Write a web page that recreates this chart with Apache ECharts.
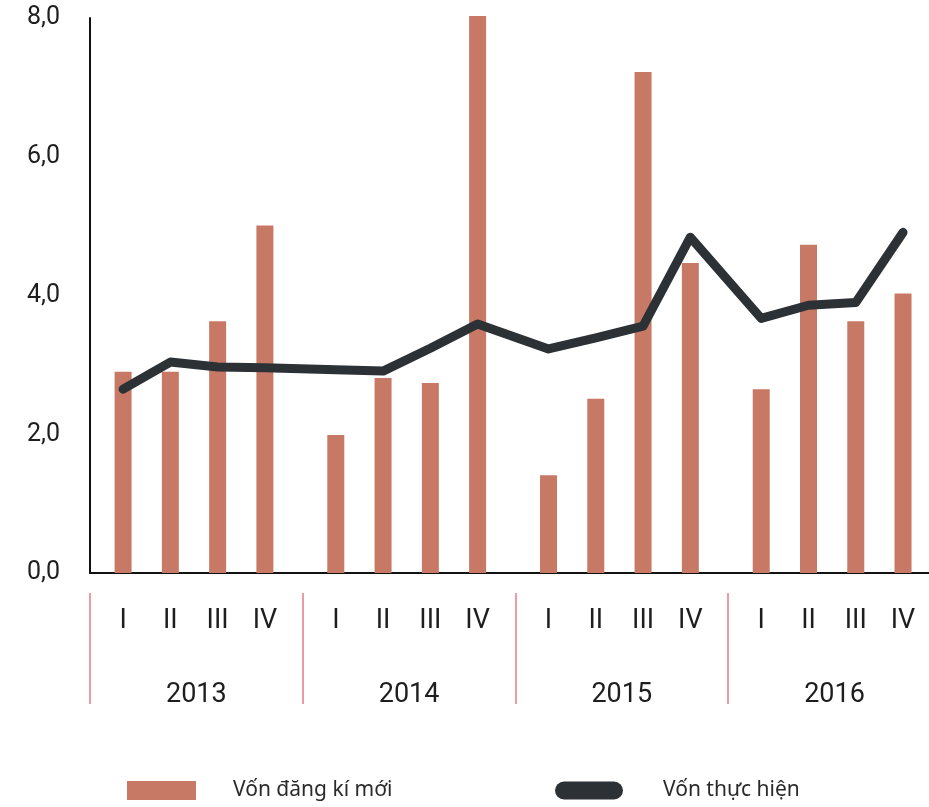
<!DOCTYPE html>
<html>
<head>
<meta charset="utf-8">
<script src="https://cdn.jsdelivr.net/npm/echarts@6/dist/echarts.min.js"></script>
<style>html,body{margin:0;padding:0;background:#fff;}#c{width:929px;height:807px;}</style>
</head>
<body>
<div id="c"></div>
<script>
const years = ['2013', '2014', '2015', '2016'];
const quarters = ['I', 'II', 'III', 'IV'];
const newCapital = [2.90, 2.90, 3.63, 5.01, 1.99, 2.81, 2.74, 8.03, 1.41, 2.51, 7.22, 4.47, 2.65, 4.73, 3.63, 4.03];
const disbursed = [2.65, 3.04, 2.97, 2.96, 2.93, 2.91, 3.24, 3.59, 3.23, 3.39, 3.56, 4.84, 3.67, 3.86, 3.90, 4.91];
const yTicks = [0, 2, 4, 6, 8];
const seriesNames = ['Vốn đăng kí mới', 'Vốn thực hiện'];

// layout: each year group spans GROUP units, quarters one unit apart
const GROUP = 4.5, OFFSET = 0.7;
const pos = [];
years.forEach((y, g) => quarters.forEach((q, i) => pos.push(g * GROUP + OFFSET + i)));
const labelByPos = {};
pos.forEach((p, k) => { labelByPos[p.toFixed(3)] = quarters[k % 4]; });
const sepPos = years.map((y, g) => g * GROUP);
const yearPos = years.map((y, g) => g * GROUP + GROUP / 2);
const yearByPos = {};
yearPos.forEach((p, g) => { yearByPos[p.toFixed(3)] = years[g]; });

const barData = newCapital.map((v, k) => [pos[k], v]);
const lineData = disbursed.map((v, k) => [pos[k], v]);

const FONT = 'Roboto';
const chart = echarts.init(document.getElementById('c'), null, { renderer: 'canvas' });
chart.setOption({
  backgroundColor: '#fff',
  animation: false,
  grid: { left: 90, right: 0, top: 18, bottom: 234, containLabel: false },
  legend: [
    {
      data: [{ name: seriesNames[0], icon: 'rect' }],
      left: 127, top: 780, padding: 0, itemWidth: 69, itemHeight: 19,
      textStyle: { fontFamily: 'Noto Sans', fontSize: 21, color: '#2a2a2a', padding: [0, 0, 0, 32] }
    },
    {
      data: [{ name: seriesNames[1], icon: 'path://M9,0 L59,0 A9,9 0 0 1 59,18 L9,18 A9,9 0 0 1 9,0 Z' }],
      left: 555, top: 780, padding: 0, itemWidth: 68, itemHeight: 18,
      textStyle: { fontFamily: 'Noto Sans', fontSize: 21, color: '#2a2a2a', padding: [0, 0, 0, 35] }
    }
  ],
  xAxis: [
    {
      type: 'value', min: 0, max: 839 / 47.27, position: 'bottom',
      axisLine: { show: true, lineStyle: { color: '#111', width: 2 } },
      axisTick: { show: false },
      splitLine: { show: false },
      axisLabel: {
        customValues: pos, margin: 35,
        fontFamily: FONT, fontSize: 27, color: '#1e1e1e',
        formatter: v => labelByPos[Number(v).toFixed(3)] || ''
      }
    },
    {
      type: 'value', min: 0, max: 839 / 47.27, position: 'bottom', offset: 20,
      axisLine: { show: false },
      axisTick: { show: true, customValues: sepPos, length: 111, inside: false, lineStyle: { color: '#e77a84', width: 1.5 } },
      splitLine: { show: false },
      axisLabel: {
        customValues: yearPos, margin: 89, showMinLabel: true, showMaxLabel: true,
        fontFamily: FONT, fontSize: 27, color: '#1e1e1e',
        formatter: v => yearByPos[Number(v).toFixed(3)] || ''
      }
    }
  ],
  yAxis: {
    type: 'value', min: 0, max: 8, interval: 2,
    axisLine: { show: true, lineStyle: { color: '#111', width: 2 } },
    axisTick: { show: false },
    splitLine: { show: false },
    axisLabel: {
      margin: 30, fontFamily: FONT, fontSize: 25, color: '#1e1e1e',
      formatter: v => yTicks.indexOf(v) >= 0 ? v.toFixed(1).replace('.', ',') : ''
    }
  },
  series: [
    {
      name: seriesNames[0], type: 'bar', xAxisIndex: 0, data: barData,
      barWidth: 17, clip: false,
      itemStyle: { color: '#c87966' }
    },
    {
      name: seriesNames[1], type: 'line', xAxisIndex: 0, data: lineData,
      showSymbol: false, symbol: 'none', clip: false, z: 5,
      lineStyle: { color: '#2c3136', width: 9, cap: 'round', join: 'round' },
      itemStyle: { color: '#2c3136' }
    }
  ]
});
</script>
</body>
</html>
